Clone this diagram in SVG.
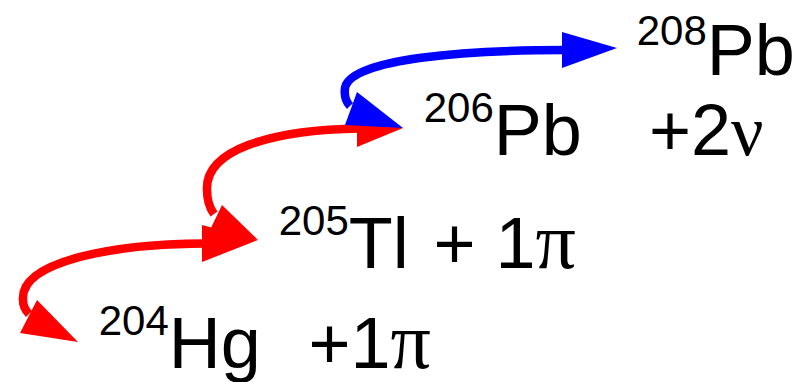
<svg xmlns="http://www.w3.org/2000/svg" xmlns:xlink="http://www.w3.org/1999/xlink" width="804" height="382" viewBox="0 0 804 382">
  <style>
    .lbl { font-family: "Liberation Sans", Arial, sans-serif; font-size: 72px; fill: #000; }
    .sup { font-size: 42px; }
    .gr { font-family: "Liberation Serif", "Times New Roman", serif; font-size: 80px; }
    .nu { font-family: "Liberation Serif", "Times New Roman", serif; font-size: 72px; }
    .red { stroke: #ff0000; }
    .blue { stroke: #0000ff; }
    .line { fill: none; stroke-width: 8.5; stroke-linecap: butt; }
    .hr { fill: #ff0000; }
    .hb { fill: #0000ff; }
  </style>
  <rect width="804" height="382" fill="#fff"/>
  <g id="connectors">
    <g id="arrow-hg-tl">
      <path class="line red" d="M205,243.5 C110,244 20,262 23,300 C23,306 25,310 29,314"/>
      <polygon class="hr" points="258,240 202,225 202,262"/>
      <polygon class="hr" points="78,342 37,300 20,333"/>
    </g>
    <g id="arrow-tl-pb206">
      <path class="line red" d="M360,128.5 C270,130 205,150 207,190 C207,200 209,207 214,214"/>
      <polygon class="hr" points="403,128 357,110 357,147"/>
      <polygon class="hr" points="258,240 222,205 208,234"/>
    </g>
    <g id="arrow-pb206-pb208">
      <path class="line blue" d="M565,50 C470,50 350,58 345,88 C344,96 346,102 350,106"/>
      <polygon class="hb" points="617,48 562,32 562,68"/>
      <polygon class="hb" points="403,128 357,92 345,125"/>
    </g>
  </g>
  <g id="n208Pb">
    <text class="lbl"><tspan class="sup" x="636.7" y="45">208</tspan><tspan y="75">Pb</tspan></text>
  </g>
  <g id="n206Pb">
    <text class="lbl"><tspan class="sup" x="423.7" y="122">206</tspan><tspan y="155">Pb   </tspan><tspan x="649" y="155">+2</tspan><tspan class="nu">ν</tspan></text>
  </g>
  <g id="n205Tl">
    <text class="lbl"><tspan class="sup" x="278.7" y="235">205</tspan><tspan y="268">Tl </tspan><tspan x="433.5">+ 1</tspan><tspan class="gr">π</tspan></text>
  </g>
  <g id="n204Hg">
    <text class="lbl"><tspan class="sup" x="98.7" y="335">204</tspan><tspan y="368">Hg  </tspan><tspan x="308.5">+1</tspan><tspan class="gr">π</tspan></text>
  </g>
</svg>
